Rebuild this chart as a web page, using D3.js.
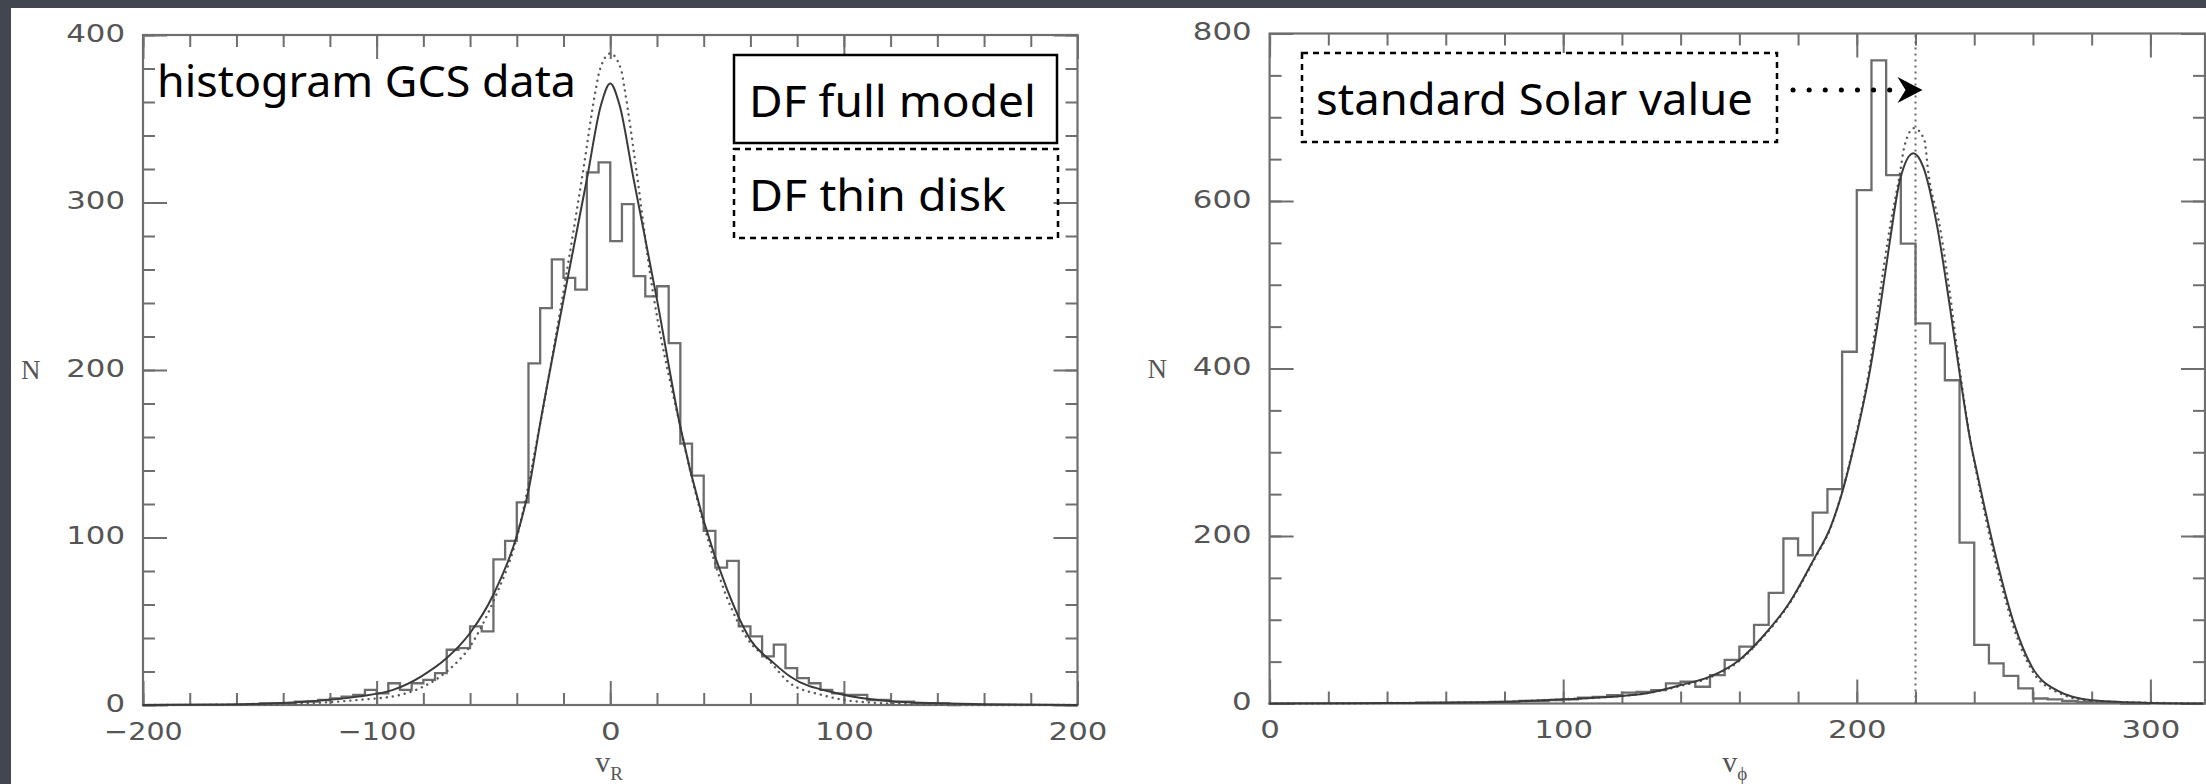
<!DOCTYPE html>
<html>
<head>
<meta charset="utf-8">
<script src="https://cdn.jsdelivr.net/npm/d3@7"></script>
<style>
  html, body { margin: 0; padding: 0; background: #42474f; }
  svg { display: block; }
</style>
</head>
<body>
<script>
// Data - left panel, v_R (bin lower edges, width 5)
var vrBins = [
  -150, -145, -140, -135, -130, -125, -120, -115, -110, -105,
  -100, -95, -90, -85, -80, -75, -70, -65, -60, -55,
  -50, -45, -40, -35, -30, -25, -20, -15, -10, -5,
  0, 5, 10, 15, 20, 25, 30, 35, 40, 45,
  50, 55, 60, 65, 70, 75, 80, 85, 90, 95,
  100, 105, 110, 115, 120, 125, 130, 135, 140, 145
];
var vrCounts = [
  1, 1, 1, 2, 2, 3, 4, 5, 6, 9,
  7, 13, 9, 13, 15, 19, 33, 34, 47, 44,
  87, 98, 121, 204, 237, 266, 255, 248, 318, 324,
  277, 299, 256, 244, 250, 216, 156, 137, 104, 82,
  86, 47, 41, 29, 36, 22, 16, 13, 9, 7,
  6, 6, 3, 3, 2, 2, 1, 1, 1, 0
];
// DF full model, v_R
var vrFullV = [-200, -170, -154, -131, -108, -93, -81, -70, -60, -50, -40, -35, -30, -20, -10, -4, 0, 4, 10, 20, 30, 40, 50, 60, 70, 77, 97, 123, 160, 200];
var vrFullN = [0, 0.3, 0.6, 2, 5, 9, 17, 28, 43, 66, 101, 128, 168, 242, 314, 358, 371, 358, 314, 242, 166, 110, 69, 39, 25, 17, 7, 2, 0.5, 0];
// DF thin disk, v_R
var vrThinV = [-200, -160, -130, -108, -90, -80, -70, -60, -50, -40, -30, -18.7, -11.6, -6, -4.5, 0, 4.7, 6, 11.2, 17, 30, 40, 50, 58.5, 67.7, 77, 90.6, 106, 130, 160, 200];
var vrThinN = [0, 0.2, 1, 3, 6, 11, 20, 35, 62, 100, 168, 258, 319, 369, 379, 389, 379, 369, 319, 258, 166, 108, 64, 40, 27, 13, 6, 2, 0.5, 0, 0];

// Data - right panel, v_phi (bin lower edges, width 5)
var vphiBins = [
  50, 55, 60, 65, 70, 75, 80, 85, 90, 95,
  100, 105, 110, 115, 120, 125, 130, 135, 140, 145,
  150, 155, 160, 165, 170, 175, 180, 185, 190, 195,
  200, 205, 210, 215, 220, 225, 230, 235, 240, 245,
  250, 255, 260, 265, 270, 275, 280, 285, 290, 295
];
var vphiCounts = [
  1, 1, 1, 1, 1, 2, 2, 3, 3, 4,
  5, 7, 8, 10, 13, 14, 16, 24, 26, 20,
  34, 52, 68, 94, 132, 197, 177, 228, 256, 420,
  613, 768, 631, 549, 454, 430, 386, 192, 70, 48,
  33, 18, 6, 5, 3, 2, 1, 1, 0, 0
];
// DF full model, v_phi
var vphiFullV = [0, 40, 60, 80, 100, 120, 128, 140, 150, 160, 168, 177, 185.5, 191, 195.5, 200, 204.5, 208, 211.3, 214.7, 219.3, 222.6, 227.2, 231.7, 235.2, 238.6, 241.3, 247.4, 253.5, 259.6, 268, 280, 298, 318];
var vphiFullN = [0, 0.5, 1, 2, 5, 9, 12, 22, 32, 52, 80, 120, 173, 210, 258, 322, 398, 474, 553, 625, 657, 641, 573, 474, 390, 315, 270, 175, 96, 44, 16, 4, 1, 0];
// DF thin disk, v_phi
var vphiThinV = [0, 40, 60, 80, 100, 120, 128, 140, 150, 160, 168, 177, 185.5, 191, 195.5, 200, 204.5, 207.9, 211.3, 214.7, 216.2, 219.5, 223, 224.4, 228.3, 231.7, 235.2, 238.6, 241.3, 247.4, 253.5, 259.6, 268, 280, 298, 318];
var vphiThinN = [0, 0.5, 1, 2, 5, 9, 12, 21, 31, 51, 79, 119, 172, 209, 259, 325, 404, 490, 569, 633, 665, 687, 673, 633, 569, 490, 395, 316, 266, 168, 90, 40, 14, 3, 1, 0];

var vrTicks         =   [-200, -100, 0, 100, 200];
var vrNTicks        =   [0, 100, 200, 300, 400];
var vphiTicks       =   [0, 100, 200, 300];
var vphiNTicks      =   [0, 200, 400, 600, 800];
var solarV          =   220;
var binWidth        =   5;

//Width and height
var chart_width     =   2206;
var chart_height    =   784;
var axisColor       =   "#6e6e6e";
var labelColor      =   "#555";

var svg = d3.select("body")
    .append("svg")
    .attr("width", chart_width)
    .attr("height", chart_height);

// paper
svg.append("rect")
    .attr("x", 11).attr("y", 8)
    .attr("width", chart_width - 11)
    .attr("height", chart_height - 8)
    .attr("fill", "#fff");

function drawPanel(p) {
    var x = p.x, y = p.y;
    var g = svg.append("g");
    var x0 = x.range()[0], x1 = x.range()[1];
    var y0 = y.range()[0], y1 = y.range()[1];

    // minor / major ticks on all four sides
    var minorX = d3.range(x.domain()[0], x.domain()[1] + 0.01, 20);
    var minorY = d3.range(0, y.domain()[1] + 0.01, p.minorY);

    g.append("g").attr("transform", "translate(0," + y0 + ")")
        .call(d3.axisBottom(x).tickValues(minorX).tickSize(-12).tickSizeOuter(0).tickFormat(""));
    g.append("g").attr("transform", "translate(0," + y1 + ")")
        .call(d3.axisTop(x).tickValues(minorX).tickSize(-12).tickSizeOuter(0).tickFormat(""));
    g.append("g").attr("transform", "translate(0," + y1 + ")")
        .call(d3.axisTop(x).tickValues(p.xTicks).tickSize(-24).tickSizeOuter(0).tickFormat(""));
    g.append("g").attr("transform", "translate(" + x0 + ",0)")
        .call(d3.axisLeft(y).tickValues(minorY).tickSize(-12).tickSizeOuter(0).tickFormat(""));
    g.append("g").attr("transform", "translate(" + x1 + ",0)")
        .call(d3.axisRight(y).tickValues(minorY).tickSize(-12).tickSizeOuter(0).tickFormat(""));
    g.append("g").attr("transform", "translate(" + x1 + ",0)")
        .call(d3.axisRight(y).tickValues(p.yTicks).tickSize(-24).tickSizeOuter(0).tickFormat(""));

    g.append("g").attr("class", "lab").attr("transform", "translate(0," + y0 + ")")
        .call(d3.axisBottom(x).tickValues(p.xTicks).tickSize(-24).tickSizeOuter(0).tickPadding(17));
    var left = g.append("g").attr("class", "lab").attr("transform", "translate(" + x0 + ",0)")
        .call(d3.axisLeft(y).tickValues(p.yTicks).tickSize(-24).tickSizeOuter(0).tickPadding(18));
    left.selectAll("text").attr("dy", "0.24em");

    g.selectAll(".domain").remove();
    g.selectAll(".tick line").attr("stroke", axisColor).attr("stroke-width", 2);
    g.selectAll(".lab text")
        .attr("fill", labelColor)
        .style("font-family", "'DejaVu Sans', sans-serif")
        .style("font-size", "25px")
        .attr("textLength", function() { return this.textContent.length * 19.6; })
        .attr("lengthAdjust", "spacingAndGlyphs");

    // frame
    g.append("rect")
        .attr("x", x0).attr("y", y1)
        .attr("width", x1 - x0).attr("height", y0 - y1)
        .attr("fill", "none")
        .attr("stroke", axisColor)
        .attr("stroke-width", 2.2);

    // histogram
    var pts = [[p.bins[0], 0]];
    p.bins.forEach(function(b, i) { pts.push([b, p.counts[i]]); });
    var last = p.bins.length - 1;
    pts.push([p.bins[last] + binWidth, p.counts[last]]);
    pts.push([p.bins[last] + binWidth, 0]);
    var step = d3.line().x(d => x(d[0])).y(d => y(d[1])).curve(d3.curveStepAfter);
    g.append("path")
        .attr("d", step(pts))
        .attr("fill", "none")
        .attr("stroke", "#6d6d6d")
        .attr("stroke-width", 2.3);

    var smooth = d3.line().x(d => x(d[0])).y(d => y(d[1])).curve(d3.curveMonotoneX);
    // thin disk (dotted)
    g.append("path")
        .attr("d", smooth(p.thinV.map((v, i) => [v, p.thinN[i]])))
        .attr("fill", "none")
        .attr("stroke", "#5a5a5a")
        .attr("stroke-width", 2.4)
        .attr("stroke-linecap", "round")
        .attr("stroke-dasharray", "0.1 6");
    // full model (solid)
    g.append("path")
        .attr("d", smooth(p.fullV.map((v, i) => [v, p.fullN[i]])))
        .attr("fill", "none")
        .attr("stroke", "#3a3a3a")
        .attr("stroke-width", 2);

    // axis titles
    g.append("text")
        .attr("x", x0 - 122).attr("y", y(p.yTicks[2]) + 9)
        .attr("fill", labelColor)
        .style("font-family", "'Liberation Serif', serif")
        .style("font-size", "27px")
        .text("N");
    var t = g.append("text")
        .attr("x", (x0 + x1) / 2 - 15).attr("y", 772)
        .attr("fill", labelColor)
        .style("font-family", "'Liberation Serif', serif")
        .style("font-size", "30px")
        .text("v");
    t.append("tspan")
        .attr("dy", 8)
        .style("font-size", "19px")
        .text(p.sub);
    return g;
}

var xL = d3.scaleLinear().domain([-200, 200]).range([143, 1077.5]);
var yL = d3.scaleLinear().domain([0, 400]).range([705, 35]);
var xR = d3.scaleLinear().domain([0, 318.6]).range([1269.6, 2205]);
var yR = d3.scaleLinear().domain([0, 800]).range([703.5, 33.5]);

drawPanel({ x: xL, y: yL, xTicks: vrTicks, yTicks: vrNTicks, minorY: 20,
    bins: vrBins, counts: vrCounts, fullV: vrFullV, fullN: vrFullN,
    thinV: vrThinV, thinN: vrThinN, sub: "R" });
var right = drawPanel({ x: xR, y: yR, xTicks: vphiTicks, yTicks: vphiNTicks, minorY: 50,
    bins: vphiBins, counts: vphiCounts, fullV: vphiFullV, fullN: vphiFullN,
    thinV: vphiThinV, thinN: vphiThinN, sub: "ϕ" });

// standard Solar value line
right.append("line")
    .attr("x1", xR(solarV)).attr("x2", xR(solarV))
    .attr("y1", yR(0)).attr("y2", yR(800))
    .attr("stroke", "#666")
    .attr("stroke-width", 2)
    .attr("stroke-dasharray", "2 4");

// Annotations
var handFont = "'Comic Sans MS', 'Chalkboard', 'Noto Sans', sans-serif";
function note(txt, x, y, len) {
    svg.append("text")
        .attr("x", x).attr("y", y)
        .attr("textLength", len)
        .attr("lengthAdjust", "spacingAndGlyphs")
        .style("font-family", handFont)
        .style("font-size", "44px")
        .attr("fill", "#000")
        .text(txt);
}
note("histogram GCS data", 157, 97, 419);

svg.append("rect")
    .attr("x", 734).attr("y", 55).attr("width", 323).attr("height", 88)
    .attr("fill", "#fff").attr("stroke", "#000").attr("stroke-width", 2.5);
note("DF full model", 749, 117, 287);

svg.append("rect")
    .attr("x", 734).attr("y", 149).attr("width", 324).attr("height", 89)
    .attr("fill", "none").attr("stroke", "#000").attr("stroke-width", 2.5)
    .attr("stroke-dasharray", "6 5");
note("DF thin disk", 749, 211, 257);

svg.append("rect")
    .attr("x", 1302).attr("y", 53).attr("width", 475).attr("height", 89)
    .attr("fill", "#fff").attr("stroke", "#000").attr("stroke-width", 2.5)
    .attr("stroke-dasharray", "6 5");
note("standard Solar value", 1316, 115, 437);

// arrow to the Solar value
var tipX = xR(solarV) + 7;
svg.append("line")
    .attr("x1", 1793).attr("x2", tipX - 26)
    .attr("y1", 90).attr("y2", 90)
    .attr("stroke", "#000")
    .attr("stroke-width", 5)
    .attr("stroke-linecap", "round")
    .attr("stroke-dasharray", "0.1 16");
svg.append("path")
    .attr("d", "M" + tipX + ",90 L" + (tipX - 25) + ",77 L" + (tipX - 17) + ",90 L" + (tipX - 25) + ",103 Z")
    .attr("fill", "#000");
</script>
</body>
</html>
